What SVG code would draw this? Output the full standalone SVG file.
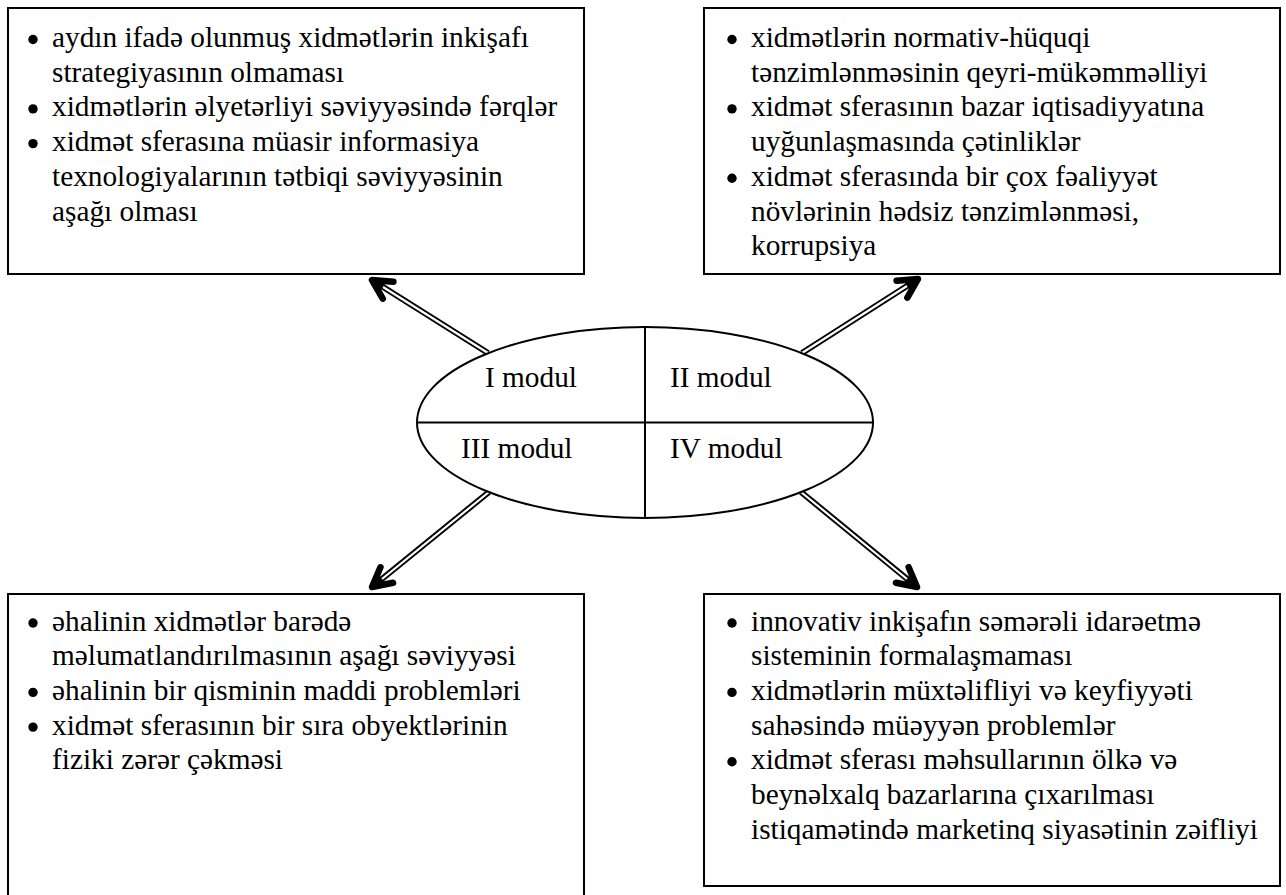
<svg xmlns="http://www.w3.org/2000/svg" width="1286" height="895" viewBox="0 0 1286 895">
<style>
.box{fill:#fff;stroke:#000;stroke-width:2}
.t{font-family:"Liberation Serif","Times New Roman",serif;font-size:29.3px;fill:#000}
.b{fill:#000}
.ell{fill:#fff;stroke:#000;stroke-width:2}
.div{stroke:#000;stroke-width:2;fill:none}
.outer{stroke:#000;stroke-width:6;fill:none}
.inner{stroke:#fff;stroke-width:2.2;fill:none}
</style>
<defs>
<marker id="head" markerUnits="userSpaceOnUse" markerWidth="44" markerHeight="44" viewBox="-28 -22 33 44" refX="0" refY="0" orient="auto">
<path d="M-19,-10 L0,0 L-19,10" fill="none" stroke="#000" stroke-width="6.5" stroke-linecap="round" stroke-linejoin="round"/>
<path d="M-13,-6 L0,0 L-13,6 Z" fill="#000"/>
</marker>
</defs>
<rect width="1286" height="895" fill="#fff"/>
<g id="connectors">
<line class="outer" x1="488" y1="353" x2="372" y2="280" marker-end="url(#head)"/>
<line class="inner" x1="488" y1="353" x2="383" y2="287"/>
<line class="outer" x1="802" y1="353" x2="918" y2="279" marker-end="url(#head)"/>
<line class="inner" x1="802" y1="353" x2="907" y2="286"/>
<line class="outer" x1="489" y1="492" x2="372" y2="587" marker-end="url(#head)"/>
<line class="inner" x1="489" y1="492" x2="382" y2="579"/>
<line class="outer" x1="801" y1="492" x2="917" y2="587" marker-end="url(#head)"/>
<line class="inner" x1="801" y1="492" x2="907" y2="579"/>
</g>
<g id="box1">
<rect class="box" x="8" y="8" width="576" height="266"/>
<circle class="b" cx="33" cy="39.5" r="4.7"/>
<circle class="b" cx="33" cy="108.9" r="4.7"/>
<circle class="b" cx="33" cy="143.6" r="4.7"/>
<text class="t">
<tspan x="52" y="47">aydın ifadə olunmuş xidmətlərin inkişafı</tspan>
<tspan x="52" y="81.7">strategiyasının olmaması</tspan>
<tspan x="52" y="116.4">xidmətlərin əlyetərliyi səviyyəsində fərqlər</tspan>
<tspan x="52" y="151.1">xidmət sferasına müasir informasiya</tspan>
<tspan x="52" y="185.8">texnologiyalarının tətbiqi səviyyəsinin</tspan>
<tspan x="52" y="220.5">aşağı olması</tspan>
</text>
</g>
<g id="box2">
<rect class="box" x="704" y="8" width="576" height="266"/>
<circle class="b" cx="732" cy="39.5" r="4.7"/>
<circle class="b" cx="732" cy="108.9" r="4.7"/>
<circle class="b" cx="732" cy="178.3" r="4.7"/>
<text class="t">
<tspan x="751" y="47">xidmətlərin normativ-hüquqi</tspan>
<tspan x="751" y="81.7">tənzimlənməsinin qeyri-mükəmməlliyi</tspan>
<tspan x="751" y="116.4">xidmət sferasının bazar iqtisadiyyatına</tspan>
<tspan x="751" y="151.1">uyğunlaşmasında çətinliklər</tspan>
<tspan x="751" y="185.8">xidmət sferasında bir çox fəaliyyət</tspan>
<tspan x="751" y="220.5">növlərinin hədsiz tənzimlənməsi,</tspan>
<tspan x="751" y="255.2">korrupsiya</tspan>
</text>
</g>
<g id="center">
<ellipse class="ell" cx="645" cy="422.5" rx="228" ry="95.5"/>
<line class="div" x1="417" y1="422.5" x2="873" y2="422.5"/>
<line class="div" x1="645" y1="327" x2="645" y2="518"/>
<text class="t" x="485" y="387">I modul</text>
<text class="t" x="670" y="387">II modul</text>
<text class="t" x="461" y="458">III modul</text>
<text class="t" x="670" y="458">IV modul</text>
</g>
<g id="box3">
<rect class="box" x="8" y="594" width="576" height="320"/>
<circle class="b" cx="33" cy="623" r="4.7"/>
<circle class="b" cx="33" cy="692.4" r="4.7"/>
<circle class="b" cx="33" cy="727.1" r="4.7"/>
<text class="t">
<tspan x="52" y="630.5">əhalinin xidmətlər barədə</tspan>
<tspan x="52" y="665.2">məlumatlandırılmasının aşağı səviyyəsi</tspan>
<tspan x="52" y="699.9">əhalinin bir qisminin maddi problemləri</tspan>
<tspan x="52" y="734.6">xidmət sferasının bir sıra obyektlərinin</tspan>
<tspan x="52" y="769.3">fiziki zərər çəkməsi</tspan>
</text>
</g>
<g id="box4">
<rect class="box" x="704" y="594" width="576" height="292"/>
<circle class="b" cx="732" cy="623" r="4.7"/>
<circle class="b" cx="732" cy="692.4" r="4.7"/>
<circle class="b" cx="732" cy="761.8" r="4.7"/>
<text class="t">
<tspan x="751" y="630.5">innovativ inkişafın səmərəli idarəetmə</tspan>
<tspan x="751" y="665.2">sisteminin formalaşmaması</tspan>
<tspan x="751" y="699.9">xidmətlərin müxtəlifliyi və keyfiyyəti</tspan>
<tspan x="751" y="734.6">sahəsində müəyyən problemlər</tspan>
<tspan x="751" y="769.3">xidmət sferası məhsullarının ölkə və</tspan>
<tspan x="751" y="804">beynəlxalq bazarlarına çıxarılması</tspan>
<tspan x="751" y="838.7">istiqamətində marketinq siyasətinin zəifliyi</tspan>
</text>
</g>
</svg>
